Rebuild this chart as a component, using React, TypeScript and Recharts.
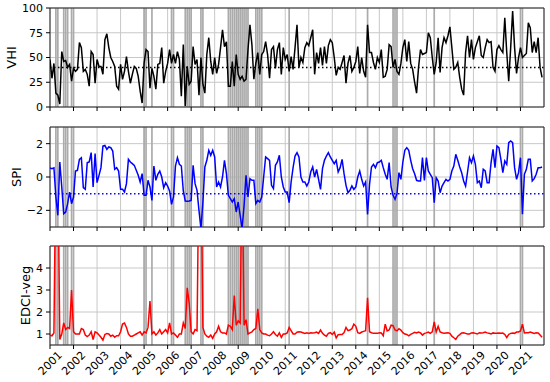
import React from 'react';
import { LineChart, Line, XAxis, YAxis, CartesianGrid, ReferenceLine, ReferenceArea } from 'recharts';

const years = [2001, 2002, 2003, 2004, 2005, 2006, 2007, 2008, 2009, 2010, 2011, 2012, 2013, 2014, 2015, 2016, 2017, 2018, 2019, 2020, 2021];

// Monthly VHI, Jan 2001 - Dec 2021
const vhi = [
  48, 29, 44, 14, 12, 3, 56, 46, 47, 40, 43, 26,
  39, 36, 38, 65, 60, 36, 38, 33, 21, 56, 53, 24,
  48, 41, 41, 33, 68, 74, 60, 50, 46, 41, 21, 18,
  43, 28, 36, 51, 36, 24, 33, 41, 39, 31, 16, 4,
  44, 58, 56, 19, 39, 31, 18, 43, 44, 60, 24, 36,
  44, 58, 44, 53, 44, 56, 48, 11, 63, 1, 41, 23,
  26, 61, 43, 48, 12, 50, 23, 14, 53, 70, 46, 33,
  50, 34, 43, 60, 78, 61, 66, 21, 21, 46, 21, 53,
  33, 28, 31, 26, 28, 58, 83, 63, 28, 44, 55, 33,
  53, 56, 66, 53, 29, 58, 61, 39, 58, 65, 33, 60,
  48, 53, 36, 51, 38, 60, 83, 40, 50, 45, 60, 65,
  62, 70, 78, 33, 55, 44, 60, 42, 61, 44, 62, 68,
  65, 50, 32, 40, 38, 45, 52, 24, 44, 52, 36, 40,
  46, 61, 34, 50, 36, 30, 83, 55, 55, 45, 38, 50,
  45, 58, 30, 31, 38, 63, 61, 40, 48, 36, 33, 44,
  60, 68, 46, 66, 44, 38, 25, 14, 40, 58, 53, 54,
  55, 75, 70, 50, 33, 45, 70, 35, 60, 70, 65, 72,
  81, 60, 38, 40, 45, 30, 18, 12, 55, 72, 50, 68,
  48, 60, 66, 72, 52, 50, 60, 68, 65, 66, 40, 36,
  58, 62, 58, 55, 90, 55, 26, 60, 97, 60, 34, 50,
  60, 50, 52, 54, 85, 80, 55, 66, 55, 70, 40, 30,
];

// Monthly SPI
const spi = [
  0.55, 0.5, 0.55, -1.2, -2.3, 0.9, -0.6, -2.2, -2.1, -1.6, -0.9, -1.6,
  -1.2, 0.36, 0.4, 1.06, 1.16, -0.64, -0.74, 0.86, 0.9, 1.46, -0.6, 1.4,
  -0.34, 0.1, 0.56, 1.86, 1.9, 1.66, 1.8, 1.76, 1.56, 0.46, 0.56, 0.36,
  -0.74, -0.74, -0.9, -0.4, 1.06, 0.9, 0.8, 0.7, 0.4, 0.1, -0.3, 0.2,
  -1.1, -1.1, -0.2, -0.6, -1.4, 0.66, -0.2, 0.16, 0.36, 0.0, -0.64, -0.34,
  -0.54, -0.84, -1.64, -1.2, 0.66, 1.16, 0.76, 0.66, -0.84, -1.44, -1.46, -1.44,
  -1.4, 0.7, -0.4, -0.8, -2.0, -3.1, -1.5, 0.6, 1.0, 1.6, 1.3, 1.6,
  1.2, -0.6, -0.3, -0.6, 0.0, 1.0, 0.2, -1.1, -1.3, -1.5, -1.3, -2.1,
  -1.5, -2.3, -3.1, -1.7, 0.1, -1.2, -0.1, -0.2, -0.2, -1.6, -1.4, -1.5,
  -1.2, 0.0, 1.2, 1.1, 1.0, -0.5, -0.7, 0.7, 0.9, 1.3, 0.0, -0.6,
  -0.9, -0.9, -1.54, -0.3, 0.56, 1.26, 1.46, 1.2, 0.0, -0.3, -0.3, -0.54,
  -0.3, 0.3, 0.6, 0.0, 0.46, -0.14, -0.74, 0.5, 1.0, 1.26, 1.46, 1.2,
  1.0, 0.8, 1.0, 0.3, 0.56, 1.06, 0.2, -0.5, -0.94, -0.8, -0.54, -0.74,
  -0.6, 0.0, 0.36, -0.14, -0.54, -0.3, -2.24, -0.44, 0.6, 0.76, 0.56, 0.86,
  0.9, 1.0, 0.56, 0.16, -0.14, 0.86, -0.6, -1.1, -1.34, -1.0, 0.26, -0.14,
  0.9, 1.6, 1.76, 1.6, 1.0, 0.5, 0.2, -0.2, -0.24, -0.24, 1.16, -0.2,
  1.16, 0.36, 0.16, -0.04, -1.54, -0.04, -0.24, -0.94, -0.54, -0.34, -0.14, -0.24,
  -0.14, 0.36, 0.66, 1.36, 1.0, 0.6, 0.26, -0.24, -0.54, 0.3, 1.16, 0.86,
  1.26, 0.76, -0.34, -0.24, -0.64, 0.46, 0.36, -0.34, -0.34, 0.86, 1.66, 0.56,
  1.86, 1.76, 1.06, 0.26, 0.96, 0.76, 2.06, 2.16, 2.06, 0.56, -0.14, 0.26,
  1.16, -2.24, 0.16, 0.46, 1.06, 1.06, -0.24, -0.1, 0.16, 0.56, 0.56, 0.6,
];

// Monthly EDCI-veg
const edci = [
  0.95, 0.92, 1.05, 9, 9, 0.75, 1.0, 1.5, 1.2, 1.3, 1.25, 3.0,
  1.1, 1.0, 1.0, 1.0, 1.25, 1.2, 0.95, 0.88, 0.95, 1.1, 0.75, 1.1,
  1.05, 0.95, 0.85, 0.72, 0.98, 1.02, 1.0, 0.9, 0.95, 0.85, 0.92, 0.92,
  1.1, 1.45, 1.5, 1.3, 1.0, 0.9, 0.9, 0.95, 1.0, 1.05, 1.1, 0.95,
  1.1, 1.05, 1.3, 2.5, 1.0, 1.1, 0.95, 1.05, 1.2, 1.0, 1.1, 1.2,
  1.05, 1.5, 1.0, 1.05, 0.95, 0.85, 1.0, 1.0, 1.5, 1.25, 3.1, 2.4,
  1.1, 1.0, 1.2, 1.15, 9, 9, 1.3, 1.0, 0.9, 0.85, 0.95, 0.8,
  1.0, 1.1, 1.35, 1.1, 1.05, 1.05, 1.0, 1.4, 1.35, 1.2, 2.75, 1.4,
  1.6, 1.5, 9, 1.4, 1.65, 1.0, 1.05, 1.1, 1.2, 1.25, 2.15, 1.2,
  1.05, 1.0, 1.0, 0.95, 0.92, 1.0, 1.1, 0.98, 0.9, 1.05, 0.85, 1.0,
  1.0, 1.05, 1.3, 1.15, 1.0, 1.0, 1.08, 1.1, 1.09, 1.06, 1.03, 1.06,
  1.03, 1.06, 1.05, 1.06, 1.09, 1.03, 1.18, 1.03, 0.95, 0.9, 1.03, 1.06,
  0.98, 1.09, 0.82, 0.97, 0.98, 0.98, 1.06, 1.3, 1.15, 1.18, 1.24, 1.45,
  1.35, 1.06, 1.03, 1.09, 1.12, 1.15, 2.65, 1.1, 1.06, 1.03, 1.03, 1.03,
  1.06, 1.05, 0.92, 1.45, 1.14, 1.18, 1.4, 1.38, 1.18, 1.14, 1.24, 1.18,
  1.06, 1.0, 0.98, 0.92, 0.98, 1.03, 1.08, 1.05, 1.09, 1.05, 0.95, 1.03,
  1.05, 1.09, 1.03, 1.1, 1.55, 1.09, 1.35, 1.09, 1.06, 1.03, 1.05, 1.06,
  1.03, 0.9, 0.83, 0.76, 0.9, 0.97, 1.05, 1.06, 1.03, 1.0, 1.0, 1.05,
  1.06, 1.03, 1.0, 1.06, 1.05, 1.06, 1.09, 1.05, 1.03, 1.0, 1.05, 1.03,
  1.03, 1.05, 1.03, 1.04, 0.98, 0.84, 0.98, 1.03, 1.05, 1.03, 1.09, 1.09,
  1.14, 1.45, 1.05, 1.06, 1.06, 1.09, 1.06, 1.03, 1.06, 1.05, 0.95, 0.85,
];

// Months flagged as drought events (gray vertical lines)
const droughtMonths = [
  '2001-04', '2001-05', '2001-08', '2001-09', '2001-10', '2001-12', '2002-01',
  '2005-01', '2005-02', '2005-05', '2006-03', '2006-04',
  '2006-10', '2006-11', '2006-12', '2007-01', '2007-06', '2007-07',
  '2008-08', '2008-09', '2008-10', '2008-11', '2008-12', '2009-01', '2009-02',
  '2009-03', '2009-04', '2009-05', '2009-06',
  '2009-10', '2009-11', '2009-12', '2010-01',
  '2011-03', '2014-07', '2015-08', '2015-09', '2015-10', '2017-05', '2021-01', '2021-02',
];

const vhiThreshold = 40;
const spiThreshold = -1;

const droughtX = droughtMonths.map((s) => {
  const [y, m] = s.split('-').map(Number);
  return y + (m - 1) / 12;
});

const data = vhi.map((v, i) => ({ t: 2001 + i / 12, vhi: v, spi: spi[i], edci: edci[i] }));

const FONT = 'DejaVu Sans, sans-serif';

const fmt = (v: number) => (v < 0 ? '\u2212' + Math.abs(v) : String(v));

const RotTick = (props: any) => {
  const { x, y, payload } = props;
  return (
    <g transform={`translate(${x},${y + 12}) rotate(-45)`}>
      <text x={0} y={0} textAnchor="middle" dy="0.35em" fontSize={11} fontFamily={FONT} fill="#000">
        {payload.value}
      </text>
    </g>
  );
};

const EmptyTick = () => <g />;

type PanelProps = {
  top: number;
  height: number;
  mTop: number;
  mBottom: number;
  xh: number;
  dataKey: string;
  color: string;
  thresholdColor: string;
  domain: [number, number];
  ticks: number[];
  threshold?: number;
  label: string;
  labelX: number;
  showX: boolean;
};

const Panel = (p: PanelProps) => {
  const plotH = p.height - p.mTop - p.mBottom - p.xh;
  const cy = p.mTop + plotH / 2;
  return (
    <div style={{ position: 'absolute', left: 0, top: p.top }}>
      <LineChart width={550} height={p.height} data={data} margin={{ top: p.mTop, right: 6, bottom: p.mBottom, left: 0 }}>
        <CartesianGrid stroke="#c8c8c8" strokeWidth={1} />
        <XAxis
          dataKey="t"
          type="number"
          domain={[2001, 2022]}
          ticks={years}
          interval={0}
          allowDataOverflow
          axisLine={false}
          tickSize={4}
          tickLine={{ stroke: '#000' }}
          height={p.xh}
          tick={p.showX ? <RotTick /> : EmptyTick}
        />
        <YAxis
          type="number"
          domain={p.domain}
          ticks={p.ticks}
          allowDataOverflow
          width={50}
          axisLine={false}
          tickSize={4}
          tickMargin={3}
          tickLine={{ stroke: '#000' }}
          tickFormatter={fmt}
          tick={{ fontSize: 11, fill: '#000', fontFamily: FONT }}
          label={{
            content: () => (
              <text
                x={p.labelX}
                y={cy}
                transform={`rotate(-90, ${p.labelX}, ${cy})`}
                textAnchor="middle"
                fontSize={13}
                fontFamily={FONT}
                fill="#000"
              >
                {p.label}
              </text>
            ),
          }}
        />
        {droughtX.map((x, i) => (
          <ReferenceLine key={i} x={x} stroke="#ababab" strokeWidth={1.7} {...({ zIndex: -1 } as any)} />
        ))}
        {p.threshold !== undefined && (
          <ReferenceLine y={p.threshold} stroke={p.thresholdColor} strokeDasharray="1.5 2.5" strokeWidth={1.5} {...({ zIndex: -1 } as any)} />
        )}
        <Line type="linear" dataKey={p.dataKey} stroke={p.color} strokeWidth={1.5} dot={false} isAnimationActive={false} />
        <ReferenceArea x1={2001} x2={2022} y1={p.domain[0]} y2={p.domain[1]} fill="none" stroke="#222" strokeWidth={1} />
      </LineChart>
    </div>
  );
};

export default function App() {
  return (
    <div style={{ position: 'absolute', left: 0, top: 0, width: 550, height: 382, background: '#fff' }}>
      <Panel top={0} height={125} mTop={8} mBottom={8} xh={10} dataKey="vhi" color="#000000" thresholdColor="#000000" domain={[0, 100]} ticks={[0, 25, 50, 75, 100]} threshold={vhiThreshold} label="VHI" labelX={16} showX={false} />
      <Panel top={120} height={120} mTop={7} mBottom={3} xh={10} dataKey="spi" color="#0000ff" thresholdColor="#0000ff" domain={[-3, 3]} ticks={[-2, 0, 2]} threshold={spiThreshold} label="SPI" labelX={21} showX={false} />
      <Panel top={240} height={142} mTop={6} mBottom={0} xh={37} dataKey="edci" color="#ff0000" thresholdColor="#ff0000" domain={[0.5, 5]} ticks={[1, 2, 3, 4]} label="EDCI-veg" labelX={30} showX={true} />
    </div>
  );
}
